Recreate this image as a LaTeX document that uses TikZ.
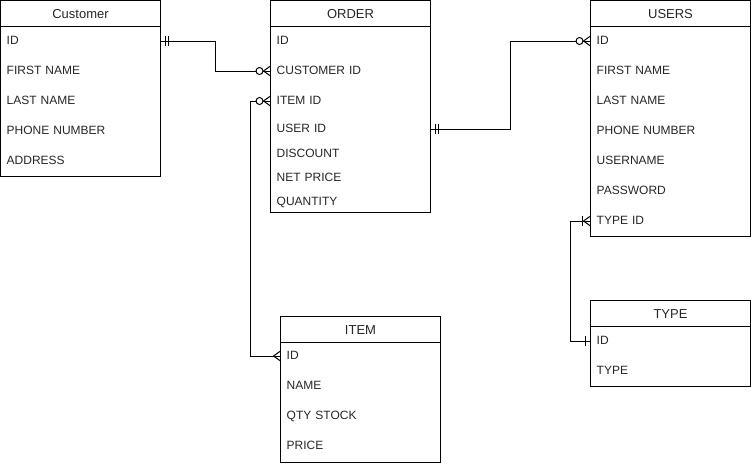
\documentclass[tikz,border=0pt]{standalone}
\usepackage{fontspec}
\setmainfont{Liberation Sans}
\usetikzlibrary{positioning}
\tikzset{
    field/.style={anchor=west, text width=148pt, inner xsep=6pt, inner ysep=0pt,
        minimum height=24pt, text height=6.8pt, text depth=0pt, align=left,
        font=\fontsize{12}{14}\selectfont, text=black!85},
    header/.style={font=\fontsize{13}{15}\selectfont, text=black!85},
    box/.style={draw, line width=1pt},
    rel/.style={draw, line width=1pt}
}
% relation ends, entity edge at origin, line coming in from -x
\tikzset{
    zeroMany/.pic={
        \draw[line width=1pt] (-7,0) -- (0,-5) (-7,0) -- (0,5);
        \filldraw[line width=1pt, fill=white] (-11,0) circle (3.5pt);
    }
}
\tikzset{
    crowMany/.pic={
        \draw[line width=1pt] (-7,0) -- (0,-5) (-7,0) -- (0,5);
    }
}
\tikzset{
    oneMany/.pic={
        \draw[line width=1pt] (-7,0) -- (0,-5) (-7,0) -- (0,5);
        \draw[line width=1pt] (-8,-5) -- (-8,5);
    }
}
\tikzset{
    onlyOne/.pic={
        \draw[line width=1pt] (-5,-5) -- (-5,5) (-8,-5) -- (-8,5);
    }
}
\tikzset{
    justOne/.pic={
        \draw[line width=1pt] (-5,-5) -- (-5,5);
    }
}

\begin{document}
\begin{tikzpicture}[x=1pt, y=-1pt]
    \useasboundingbox (0,0) rectangle (751,466);

    % Customer
    \draw[box] (0.5,0.5) rectangle (160.5,176.5);
    \draw[box] (0.5,26.5) -- (160.5,26.5);
    \node[header] (cust) at (80.5,14) {Customer};
    \node[field] (cust-id) at (0.5,41) {ID};
    \node[field] (cust-fn) at (0.5,71) {FIRST NAME};
    \node[field] (cust-ln) at (0.5,101) {LAST NAME};
    \node[field] (cust-ph) at (0.5,131) {PHONE NUMBER};
    \node[field] (cust-ad) at (0.5,161) {ADDRESS};

    % ORDER
    \draw[box] (270.5,0.5) rectangle (430.5,212.5);
    \draw[box] (270.5,26.5) -- (430.5,26.5);
    \node[header] (ord) at (350.5,14) {ORDER};
    \node[field] (ord-id) at (270.5,41) {ID};
    \node[field] (ord-cid) at (270.5,71) {CUSTOMER ID};
    \node[field] (ord-iid) at (270.5,101) {ITEM ID};
    \node[field] (ord-uid) at (270.5,129) {USER ID};
    \node[field] (ord-dc) at (270.5,154) {DISCOUNT};
    \node[field] (ord-np) at (270.5,178) {NET PRICE};
    \node[field] (ord-qt) at (270.5,202) {QUANTITY};

    % USERS
    \draw[box] (590.5,0.5) rectangle (750.5,236.5);
    \draw[box] (590.5,26.5) -- (750.5,26.5);
    \node[header] (usr) at (670.5,14) {USERS};
    \node[field] (usr-id) at (590.5,41) {ID};
    \node[field] (usr-fn) at (590.5,71) {FIRST NAME};
    \node[field] (usr-ln) at (590.5,101) {LAST NAME};
    \node[field] (usr-ph) at (590.5,131) {PHONE NUMBER};
    \node[field] (usr-un) at (590.5,161) {USERNAME};
    \node[field] (usr-pw) at (590.5,191) {PASSWORD};
    \node[field] (usr-tid) at (590.5,221) {TYPE ID};

    % ITEM
    \draw[box] (280.5,316.5) rectangle (440.5,462.5);
    \draw[box] (280.5,342.5) -- (440.5,342.5);
    \node[header] (item) at (360.5,330) {ITEM};
    \node[field] (item-id) at (280.5,356) {ID};
    \node[field] (item-nm) at (280.5,386) {NAME};
    \node[field] (item-qs) at (280.5,416) {QTY STOCK};
    \node[field] (item-pr) at (280.5,446) {PRICE};

    % TYPE
    \draw[box] (590.5,300.5) rectangle (750.5,386.5);
    \draw[box] (590.5,326.5) -- (750.5,326.5);
    \node[header] (type) at (670.5,314) {TYPE};
    \node[field] (type-id) at (590.5,341) {ID};
    \node[field] (type-ty) at (590.5,371) {TYPE};

    % relations
    \draw[rel] (cust-id.east) -- ++(55,0) |- (ord-cid.west);
    \draw[rel] (ord-iid.west) -- ++(-20,0) |- (item-id.west);
    \draw[rel] (ord-uid.east) -- ++(80,0) |- (usr-id.west);
    \draw[rel] (usr-tid.west) -- ++(-20,0) |- (type-id.west);

    \pic[xscale=-1] at (cust-id.east) {onlyOne};
    \pic at (ord-cid.west) {zeroMany};
    \pic at (ord-iid.west) {zeroMany};
    \pic at (item-id.west) {crowMany};
    \pic[xscale=-1] at (ord-uid.east) {onlyOne};
    \pic at (usr-id.west) {zeroMany};
    \pic at (usr-tid.west) {oneMany};
    \pic at (type-id.west) {justOne};
\end{tikzpicture}
\end{document}
